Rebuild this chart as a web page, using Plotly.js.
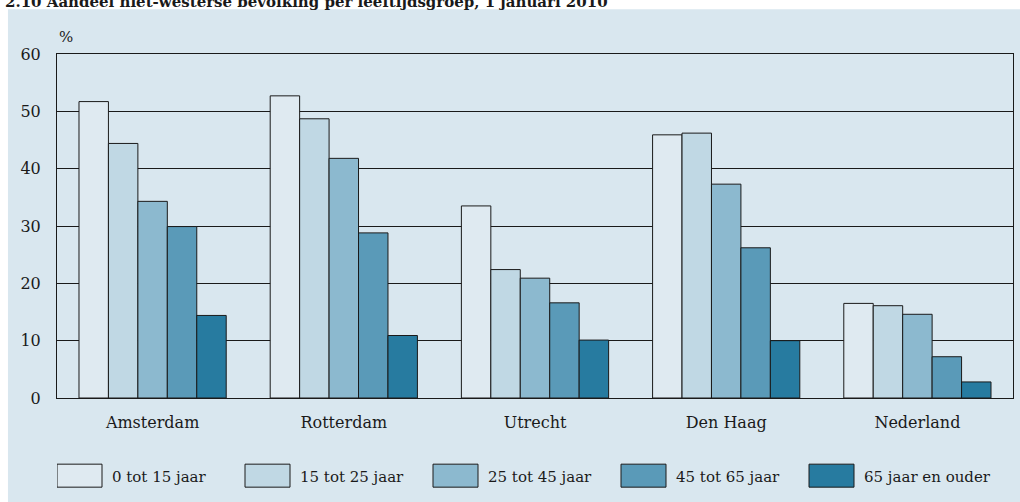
<!DOCTYPE html>
<html>
<head>
<meta charset="utf-8">
<script src="https://cdn.plot.ly/plotly-3.0.1.min.js"></script>
<style>html,body{margin:0;padding:0;background:#fff;}</style>
</head>
<body>
<div id="chart" style="width:1020px;height:502px;"></div>
<script>
const categories = ["Amsterdam", "Rotterdam", "Utrecht", "Den Haag", "Nederland"];
const seriesNames = ["0 tot 15 jaar", "15 tot 25 jaar", "25 tot 45 jaar", "45 tot 65 jaar", "65 jaar en ouder"];
const age0_15   = [51.7, 52.7, 33.5, 45.9, 16.5];
const age15_25  = [44.4, 48.7, 22.4, 46.2, 16.1];
const age25_45  = [34.3, 41.8, 20.9, 37.3, 14.6];
const age45_65  = [29.9, 28.8, 16.6, 26.2, 7.2];
const age65plus = [14.4, 10.9, 10.1, 10.0, 2.8];
const seriesValues = [age0_15, age15_25, age25_45, age45_65, age65plus];
const colors = ["#dfeaf1", "#c0d8e4", "#8cb9cf", "#5a9ab8", "#277ba0"];
const yTicks = [0, 10, 20, 30, 40, 50, 60];
const chartTitle = "2.10 Aandeel niet-westerse bevolking per leeftijdsgroep, 1 januari 2010";

const FONT = "DejaVu Serif, Liberation Serif, serif";

const traces = seriesValues.map((vals, i) => ({
  type: "bar",
  name: seriesNames[i],
  x: categories,
  y: vals,
  marker: { color: colors[i], line: { color: "#1a1a1a", width: 1 } },
  hoverinfo: "skip"
}));

const layout = {
  width: 1020,
  height: 502,
  margin: { l: 57, r: 7, t: 54, b: 104, autoexpand: false },
  paper_bgcolor: "#ffffff",
  plot_bgcolor: "#ffffff",
  barmode: "group",
  bargap: 0.23,
  bargroupgap: 0,
  font: { family: FONT, size: 16, color: "#1a1a1a" },
  xaxis: {
    type: "category",
    showgrid: false,
    showline: true,
    linecolor: "#1a1a1a",
    linewidth: 1,
    mirror: true,
    ticks: "",
    ticklabelstandoff: 10,
    tickfont: { family: FONT, size: 16, color: "#1a1a1a" },
    fixedrange: true
  },
  yaxis: {
    range: [0, 60],
    tickvals: yTicks,
    ticktext: yTicks.map(String),
    showgrid: true,
    gridcolor: "#1a1a1a",
    gridwidth: 1,
    zeroline: false,
    showline: true,
    linecolor: "#1a1a1a",
    linewidth: 1,
    mirror: true,
    ticks: "",
    ticklabelstandoff: 12,
    tickfont: { family: FONT, size: 16, color: "#1a1a1a" },
    fixedrange: true
  },
  showlegend: true,
  legend: {
    orientation: "h",
    x: 0, xanchor: "left",
    y: -0.2265, yanchor: "middle",
    yref: "paper",
    bgcolor: "rgba(0,0,0,0)",
    font: { family: FONT, size: 15, color: "#1a1a1a" },
    itemwidth: 45,
    entrywidth: 128,
    traceorder: "normal",
    itemclick: false,
    itemdoubleclick: false
  },
  shapes: [{
    type: "rect",
    xref: "paper", yref: "paper",
    x0: -0.0513, x1: 1.05,
    y0: -0.4, y1: 1.1298,
    fillcolor: "#d9e7ef",
    line: { width: 0 },
    layer: "below"
  }],
  annotations: [{
    text: "%",
    xref: "paper", yref: "paper",
    x: 0, xanchor: "left",
    y: 1.05, yanchor: "middle",
    showarrow: false,
    font: { family: FONT, size: 15, color: "#1a1a1a" }
  }, {
    text: "<b>" + chartTitle + "</b>",
    xref: "paper", yref: "paper",
    x: -0.057, xanchor: "left",
    y: 1.152, yanchor: "middle",
    showarrow: false,
    font: { family: FONT, size: 15, color: "#1a1a1a" }
  }]
};

Plotly.newPlot("chart", traces, layout, { displayModeBar: false, staticPlot: true }).then(gd => {
  gd.querySelectorAll(".legend .legendpoints path").forEach(p => {
    p.setAttribute("d", "M-27.5,-11.5H17.5V11.5H-27.5Z");
    p.style.strokeWidth = "1px";
    p.style.stroke = "#1a1a1a";
  });
});
</script>
</body>
</html>
